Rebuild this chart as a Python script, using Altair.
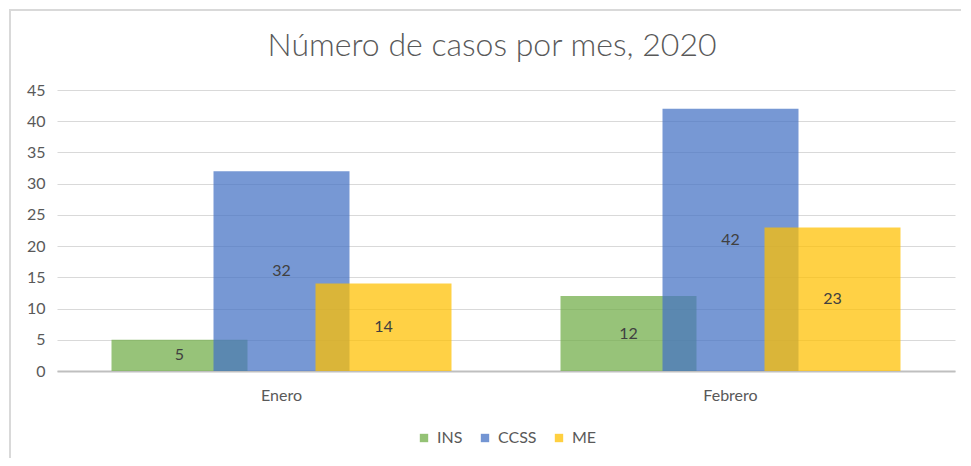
import altair as alt
import pandas as pd

months = ["Enero", "Febrero"]
series = ["INS", "CCSS", "ME"]
ins_values = [5, 12]
ccss_values = [32, 42]
me_values = [14, 23]
colors = ["#70AD47", "#4472C4", "#FFC000"]
y_ticks = [0, 5, 10, 15, 20, 25, 30, 35, 40, 45]
title_text = "Número de casos por mes, 2020"

rows = []
for s, vals in zip(series, [ins_values, ccss_values, me_values]):
    for m, v in zip(months, vals):
        rows.append({"mes": m, "serie": s, "casos": v})
df = pd.DataFrame(rows)

FONT = "Lato"
TXT = "#595959"
W, H = 898, 281
BAR_W = 136
OFFS = {"INS": -102, "CCSS": 0, "ME": 102}

x_axis = alt.Axis(title=None, labelAngle=0, labelFontSize=16, labelColor=TXT,
                  labelFont=FONT, labelPadding=16, ticks=False,
                  domainColor="#bfbfbf", domainWidth=2, grid=False)
x_scale = alt.Scale(paddingInner=0, paddingOuter=0)
y_scale = alt.Scale(domain=[0, 45])
y_axis = alt.Axis(title=None, values=y_ticks, labelFontSize=16, labelColor=TXT,
                  labelFont=FONT, labelPadding=12, ticks=False, domain=False,
                  labelOverlap=False, gridColor="#d9d9d9", gridWidth=1)
color_enc = alt.Color("serie:N",
                      scale=alt.Scale(domain=series, range=colors),
                      legend=alt.Legend(title=None, orient="none", direction="horizontal",
                                        legendX=359, legendY=340, symbolType="square",
                                        symbolSize=70, symbolOpacity=0.75, labelFontSize=16,
                                        labelColor=TXT, labelFont=FONT, columnPadding=14,
                                        labelOffset=5))

one = alt.Data(values=[{"t": title_text}])
frame_left = alt.Chart(one).mark_rule(stroke="#d9d9d9", strokeWidth=2).encode(
    x=alt.value(-47), y=alt.value(-81), y2=alt.value(400))
frame_top = alt.Chart(one).mark_rule(stroke="#d9d9d9", strokeWidth=2).encode(
    x=alt.value(-48), x2=alt.value(920), y=alt.value(-80))

title = alt.Chart(one).mark_text(
    font=FONT, fontSize=32, fontWeight=300, color=TXT, align="center", baseline="alphabetic"
).encode(x=alt.value(435), y=alt.value(-34), text="t:N")

layers = [frame_left, frame_top, title]
for s in series:
    d = df[df.serie == s]
    bars = alt.Chart(d).mark_bar(width=BAR_W, xOffset=OFFS[s], opacity=0.73).encode(
        x=alt.X("mes:N", sort=months, scale=x_scale, axis=x_axis),
        y=alt.Y("casos:Q", scale=y_scale, axis=y_axis),
        color=color_enc)
    layers.append(bars)
for s in series:
    d = df[df.serie == s]
    labels = alt.Chart(d).transform_calculate(mid="datum.casos / 2").mark_text(
        xOffset=OFFS[s], fontSize=16, font=FONT, color="#404040", baseline="middle"
    ).encode(x=alt.X("mes:N", sort=months, scale=x_scale, axis=x_axis),
             y=alt.Y("mid:Q", scale=y_scale, axis=y_axis),
             text="casos:Q")
    layers.append(labels)

chart = alt.layer(*layers).properties(
    width=W, height=H, background="white",
    autosize=alt.AutoSizeParams(type="none"),
    padding={"left": 49, "top": 82, "right": 6, "bottom": 87},
).configure_view(stroke=None)

chart.save("out.html", embed_options={"renderer": "svg", "actions": False})
